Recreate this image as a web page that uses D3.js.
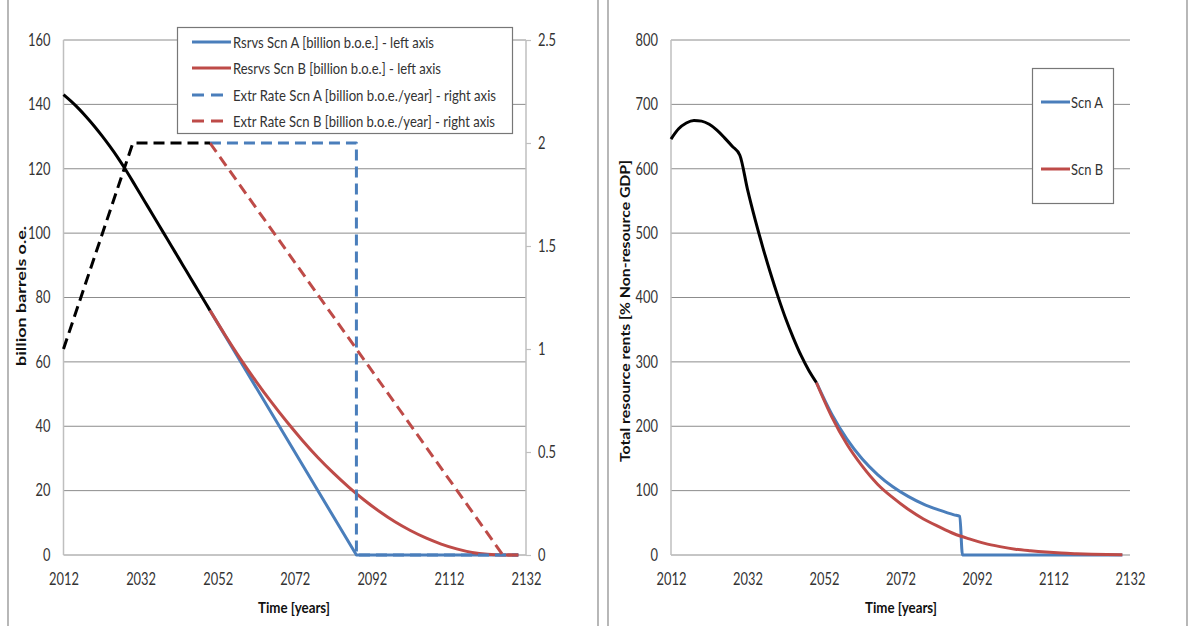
<!DOCTYPE html>
<html><head><meta charset="utf-8">
<script src="https://cdn.jsdelivr.net/npm/d3@7"></script>
<style>body{margin:0;background:#fff}text{font-family:Lato,"Open Sans",sans-serif}</style>
</head><body>
<svg id="c" width="1189" height="626"></svg>
<script>
// ---------- DATA ----------
const xTicks = [2012, 2032, 2052, 2072, 2092, 2112, 2132];
const leftTicks = [0, 20, 40, 60, 80, 100, 120, 140, 160];
const rightTicks = [0, 0.5, 1, 1.5, 2, 2.5];
const rentTicks = [0, 100, 200, 300, 400, 500, 600, 700, 800];

// Left chart: reserves [billion b.o.e.]
const resCommonYears = [2012,2014,2016,2018,2020,2022,2024,2026,2028,2030,2032,2034,2036,2038,2040,2042,2044,2046,2048,2050];
const resCommon      = [143,140.9,138.6,136,133.2,130.2,127,123.6,119.9,116,112,108,104,100,96,92,88,84,80,76];
const resAYears = [2050, 2088, 2130];
const resA      = [76, 0, 0];
const resBYears = [2050,2054,2058,2062,2066,2070,2074,2078,2082,2086,2090,2094,2098,2102,2106,2110,2114,2118,2122,2126,2130];
const resB      = [76,68.2,60.8,53.9,47.4,41.3,35.6,30.3,25.5,21.1,17.1,13.5,10.3,7.6,5.3,3.4,1.9,0.8,0.2,0,0];
// Extraction rate [billion b.o.e./year]
const rateCommonYears = [2012, 2030, 2050];
const rateCommon      = [1, 2, 2];
const rateAYears = [2050, 2088, 2088, 2130];
const rateA      = [2, 2, 0, 0];
const rateBYears = [2050, 2126, 2130];
const rateB      = [2, 0, 0];

// Right chart: total resource rents [% non-resource GDP]
const rentCommonYears = [2012,2014,2016,2018,2020,2022,2024,2026,2028,2030,2032,2034,2036,2038,2040,2042,2044,2046,2048,2050];
const rentCommon      = [646,662,671,675,674,669,660,648,635,621,568,521,478,438,401,367,337,310,287,268];
const rentAYears = [2050,2054,2058,2062,2066,2070,2074,2078,2082,2086,2087.5,2088.2,2130];
const rentA      = [268,219,180,149,125,106,91,79,70,62.4,60.2,0,0];
const rentBYears = [2050,2054,2058,2062,2066,2070,2074,2078,2082,2086,2090,2094,2098,2102,2106,2110,2114,2118,2122,2126,2130];
const rentB      = [268,215,172,138,110,89,71,56,44,33,25,18,13,9,6.5,4.5,3,2,1.2,0.6,0.3];

const legendLeft = ["Rsrvs Scn A [billion b.o.e.] - left axis","Resrvs Scn B [billion b.o.e.] - left axis","Extr Rate Scn A [billion b.o.e./year] - right axis","Extr Rate Scn B [billion b.o.e./year] - right axis"];
const legendRight = ["Scn A", "Scn B"];

// ---------- STYLE ----------
const BLUE = "#4a7ebb", RED = "#be4b48", BLACK = "#000";
const GRID = "#8c8c8c", AXIS = "#bfbfbf", TXT = "#333";

const svg = d3.select("#c");
const zip = (xs, ys) => xs.map((x, i) => [x, ys[i]]);
function squish(sel, f) {
  sel.each(function () {
    const w = this.getComputedTextLength();
    this.setAttribute("textLength", w * f);
    this.setAttribute("lengthAdjust", "spacingAndGlyphs");
  });
}
function fitText(sel, len) {
  sel.attr("textLength", len).attr("lengthAdjust", "spacingAndGlyphs");
}

// panel borders
[[8, 598], [608, 1187]].forEach(([a, b]) => {
  svg.append("line").attr("x1", a).attr("x2", a).attr("y1", 0).attr("y2", 626).attr("stroke", "#888").attr("stroke-width", 1.2);
  svg.append("line").attr("x1", b).attr("x2", b).attr("y1", 0).attr("y2", 626).attr("stroke", "#888").attr("stroke-width", 1.2);
});

// ---------- LEFT CHART ----------
const xL = d3.scaleLinear().domain([2012, 2132]).range([63.5, 526]);
const yL = d3.scaleLinear().domain([0, 160]).range([555, 40]);
const yR = d3.scaleLinear().domain([0, 2.5]).range([555, 40]);

const gL = svg.append("g");
gL.selectAll("line.grid").data(leftTicks).join("line")
  .attr("x1", xL(2012)).attr("x2", xL(2132)).attr("y1", d => yL(d)).attr("y2", d => yL(d))
  .attr("stroke", GRID).attr("stroke-width", 1);
gL.append("line").attr("x1", xL(2012)).attr("x2", xL(2012)).attr("y1", yL(160)).attr("y2", yL(0)).attr("stroke", AXIS).attr("stroke-width", 1.5);

const axLeft = gL.append("g").attr("transform", `translate(${xL(2012)},0)`)
  .call(d3.axisLeft(yL).tickValues(leftTicks).tickSize(0).tickPadding(13).tickFormat(d3.format("d")));
const axRight = gL.append("g").attr("transform", `translate(${xL(2132)},0)`)
  .call(d3.axisRight(yR).tickValues(rightTicks).tickSize(5).tickPadding(7).tickFormat(d => String(d)));
const axBottomL = gL.append("g").attr("transform", `translate(0,${yL(0)})`)
  .call(d3.axisBottom(xL).tickValues(xTicks).tickSize(0).tickPadding(18).tickFormat(d3.format("d")));
[axLeft, axBottomL].forEach(a => a.select(".domain").remove());
axRight.select(".domain").attr("stroke", AXIS).attr("stroke-width", 1.5).attr("d", `M0,${yR(2.5)}V${yR(0)}`);
axRight.selectAll(".tick line").attr("stroke", AXIS).attr("stroke-width", 1.2);

const lineL = d3.line().x(d => xL(d[0])).y(d => yL(d[1]));
const lineR = d3.line().x(d => xL(d[0])).y(d => yR(d[1]));
const smoothL = d3.line().x(d => xL(d[0])).y(d => yL(d[1])).curve(d3.curveMonotoneX);

const draw = (g, gen, data, color, dash) => g.append("path").datum(data).attr("d", gen)
  .attr("fill", "none").attr("stroke", color).attr("stroke-width", 3)
  .attr("stroke-dasharray", dash || null).attr("stroke-linejoin", "round");

draw(gL, lineL, zip(resAYears, resA), BLUE);
draw(gL, smoothL, zip(resBYears, resB), RED);
draw(gL, lineR, zip(rateAYears, rateA), BLUE, "11,6");
draw(gL, lineR, zip(rateBYears, rateB), RED, "11,6");
draw(gL, smoothL, zip(resCommonYears, resCommon), BLACK);
draw(gL, lineR, zip(rateCommonYears, rateCommon), BLACK, "11,6");

// left legend
const lg = gL.append("g");
lg.append("rect").attr("x", 177.5).attr("y", 27.5).attr("width", 335).attr("height", 106)
  .attr("fill", "#fff").attr("stroke", "#777").attr("stroke-width", 1.2);
const lgColors = [BLUE, RED, BLUE, RED], lgDash = [null, null, "12,7", "12,7"], lgY = [42, 68, 95, 121];
const lgW = [201, 208, 263, 262];
legendLeft.forEach((t, i) => {
  lg.append("line").attr("x1", 192).attr("x2", i < 2 ? 231 : 229).attr("y1", lgY[i]).attr("y2", lgY[i])
    .attr("stroke", lgColors[i]).attr("stroke-width", 3).attr("stroke-dasharray", lgDash[i]);
  lg.append("text").attr("x", 233).attr("y", lgY[i] + 5.5).attr("font-size", 16).attr("fill", TXT).text(t)
    .call(fitText, lgW[i]);
});

// axis titles
gL.append("text").attr("transform", "translate(26,296) scale(0.85,1) rotate(-90)").attr("text-anchor", "middle")
  .attr("font-size", 15.5).attr("font-weight", "bold").attr("fill", "#111").text("billion barrels o.e.").call(fitText, 140);
gL.append("text").attr("x", 294).attr("y", 613).attr("text-anchor", "middle")
  .attr("font-size", 15.5).attr("font-weight", "bold").attr("fill", "#111").text("Time [years]").call(fitText, 72);

// ---------- RIGHT CHART ----------
const x2 = d3.scaleLinear().domain([2012, 2132]).range([671, 1130]);
const y2 = d3.scaleLinear().domain([0, 800]).range([555, 40]);
const gR = svg.append("g");
gR.selectAll("line.grid").data(rentTicks).join("line")
  .attr("x1", x2(2012)).attr("x2", x2(2132)).attr("y1", d => y2(d)).attr("y2", d => y2(d))
  .attr("stroke", GRID).attr("stroke-width", 1);
gR.append("line").attr("x1", x2(2012)).attr("x2", x2(2012)).attr("y1", y2(800)).attr("y2", y2(0)).attr("stroke", AXIS).attr("stroke-width", 1.5);
const ax2L = gR.append("g").attr("transform", `translate(${x2(2012)},0)`)
  .call(d3.axisLeft(y2).tickValues(rentTicks).tickSize(0).tickPadding(13).tickFormat(d3.format("d")));
const ax2B = gR.append("g").attr("transform", `translate(0,${y2(0)})`)
  .call(d3.axisBottom(x2).tickValues(xTicks).tickSize(0).tickPadding(18).tickFormat(d3.format("d")));
[ax2L, ax2B].forEach(a => a.select(".domain").remove());

const smooth2 = d3.line().x(d => x2(d[0])).y(d => y2(d[1])).curve(d3.curveMonotoneX);
draw(gR, smooth2, zip(rentAYears, rentA), BLUE);
draw(gR, smooth2, zip(rentBYears, rentB), RED);
draw(gR, smooth2, zip(rentCommonYears, rentCommon), BLACK);

const lg2 = gR.append("g");
lg2.append("rect").attr("x", 1032.5).attr("y", 68.5).attr("width", 81).attr("height", 135)
  .attr("fill", "#fff").attr("stroke", "#777").attr("stroke-width", 1.2);
[[BLUE, 102], [RED, 169]].forEach(([c, y], i) => {
  lg2.append("line").attr("x1", 1041).attr("x2", 1070).attr("y1", y).attr("y2", y).attr("stroke", c).attr("stroke-width", 3);
  lg2.append("text").attr("x", 1071).attr("y", y + 5.5).attr("font-size", 16).attr("fill", TXT).text(legendRight[i]).call(fitText, 32);
});

gR.append("text").attr("transform", "translate(630,311) scale(0.85,1) rotate(-90)").attr("text-anchor", "middle")
  .attr("font-size", 15.5).attr("font-weight", "bold").attr("fill", "#111").text("Total resource rents [% Non-resource GDP]").call(fitText, 302);
gR.append("text").attr("x", 901).attr("y", 613).attr("text-anchor", "middle")
  .attr("font-size", 15.5).attr("font-weight", "bold").attr("fill", "#111").text("Time [years]").call(fitText, 72);

// tick label styling
svg.selectAll(".tick text").attr("font-size", 16.5).attr("fill", TXT).attr("font-family", "Lato, sans-serif").call(squish, 0.78);
</script>
</body></html>
